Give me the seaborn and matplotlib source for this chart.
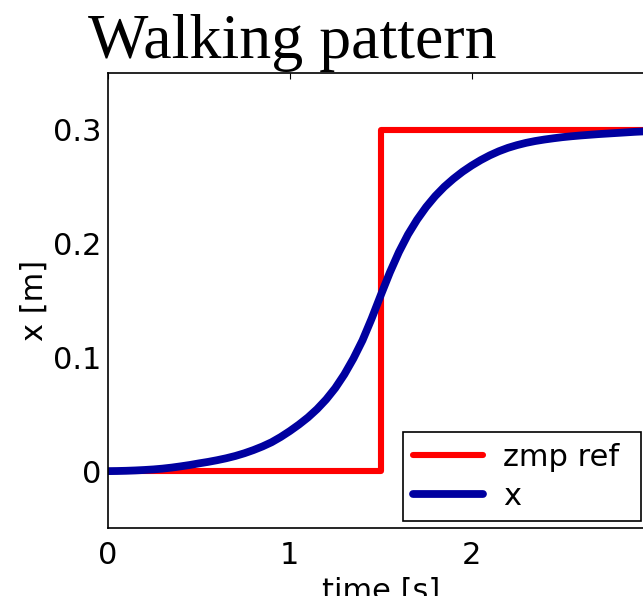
import matplotlib
matplotlib.use("Agg")
import matplotlib.pyplot as plt
import seaborn as sns
import pandas as pd

# ---- data ----
zmp_time = [0.0, 1.5, 1.5, 3.0]
zmp_ref = [0.0, 0.0, 0.3, 0.3]

com_time = [0.00, 0.05, 0.10, 0.15, 0.20, 0.25, 0.30, 0.35, 0.40, 0.45,
            0.50, 0.55, 0.60, 0.65, 0.70, 0.75, 0.80, 0.85, 0.90, 0.95,
            1.00, 1.05, 1.10, 1.15, 1.20, 1.25, 1.30, 1.35, 1.40, 1.45,
            1.50, 1.55, 1.60, 1.65, 1.70, 1.75, 1.80, 1.85, 1.90, 1.95,
            2.00, 2.05, 2.10, 2.15, 2.20, 2.25, 2.30, 2.35, 2.40, 2.45,
            2.50, 2.55, 2.60, 2.65, 2.70, 2.75, 2.80, 2.85, 2.90, 2.95,
            3.00]
com_x = [0.0000, 0.0001, 0.0003, 0.0006, 0.0010, 0.0015, 0.0022, 0.0031,
         0.0042, 0.0054, 0.0068, 0.0081, 0.0096, 0.0113, 0.0133, 0.0157,
         0.0185, 0.0217, 0.0254, 0.0300, 0.0352, 0.0409, 0.0472, 0.0545,
         0.0630, 0.0730, 0.0850, 0.0990, 0.1150, 0.1340, 0.1545, 0.1745,
         0.1925, 0.2080, 0.2210, 0.2322, 0.2418, 0.2500, 0.2570, 0.2632,
         0.2686, 0.2734, 0.2776, 0.2812, 0.2842, 0.2866, 0.2886, 0.2902,
         0.2915, 0.2926, 0.2936, 0.2944, 0.2951, 0.2957, 0.2963, 0.2968,
         0.2973, 0.2978, 0.2983, 0.2987, 0.2991]

x_ticks = [0, 1, 2]
x_tick_labels = ["0", "1", "2"]
y_ticks = [0.0, 0.1, 0.2, 0.3]
y_tick_labels = ["0", "0.1", "0.2", "0.3"]

title = "Walking pattern"
x_label = "time [s]"
y_label = "x [m]"
series_names = ["zmp ref", "x"]

# ---- style ----
sns.set_theme(style="white")
plt.rcParams["font.family"] = ["DejaVu Sans"]
plt.rcParams["xtick.direction"] = "in"
plt.rcParams["ytick.direction"] = "in"

W, H = 643, 596
fig = plt.figure(figsize=(W / 100, H / 100), dpi=100)
left, top, bottom = 108, 73, 528
px_per_s = 181.8
right = left + 3 * px_per_s
ax = fig.add_axes([left / W, 1 - bottom / H, (right - left) / W, (bottom - top) / H])

df_zmp = pd.DataFrame({"t": zmp_time, "v": zmp_ref})
df_com = pd.DataFrame({"t": com_time, "v": com_x})

sns.lineplot(data=df_zmp, x="t", y="v", ax=ax, color="#FF0000", linewidth=4.4,
             label=series_names[0], sort=False, estimator=None,
             solid_capstyle="round", solid_joinstyle="round")
sns.lineplot(data=df_com, x="t", y="v", ax=ax, color="#0000A0", linewidth=5.6,
             label=series_names[1], sort=False, estimator=None,
             solid_capstyle="round", solid_joinstyle="round")

ax.set_xlim(0, 3)
ax.set_ylim(-0.05, 0.35)
ax.set_xticks(x_ticks)
ax.set_xticklabels(x_tick_labels)
ax.set_yticks(y_ticks)
ax.set_yticklabels(y_tick_labels)
ax.tick_params(axis="both", which="both", direction="in", length=4, width=0.8,
               top=True, right=True, labelsize=22, color="black", labelcolor="black")
ax.tick_params(axis="x", pad=9)
ax.tick_params(axis="y", pad=5)
for s in ax.spines.values():
    s.set_color("black")
    s.set_linewidth(1.2)
    s.set_visible(True)

ax.set_xlabel(x_label, fontsize=22, labelpad=5, color="black")
ax.set_ylabel(y_label, fontsize=22, labelpad=3, color="black")

ax_w = right - left
ax_h = bottom - top
leg = ax.legend(loc="lower left",
                bbox_to_anchor=((403 - left) / ax_w, (bottom - 521) / ax_h,
                                (641 - 403) / ax_w, 0.1),
                mode="expand", fontsize=22,
                frameon=True, fancybox=False, edgecolor="black", framealpha=1,
                handlelength=2.3, handletextpad=0.65, labelspacing=0.34,
                borderpad=0.33, borderaxespad=0)
leg.get_frame().set_linewidth(1.2)
for t in leg.get_texts():
    t.set_color("black")

fig.text(88 / W, 1 - 58 / H, title, fontsize=46, ha="left", va="baseline",
         family=["Liberation Serif", "DejaVu Serif"], color="black")

fig.savefig("out.png", dpi=100)
